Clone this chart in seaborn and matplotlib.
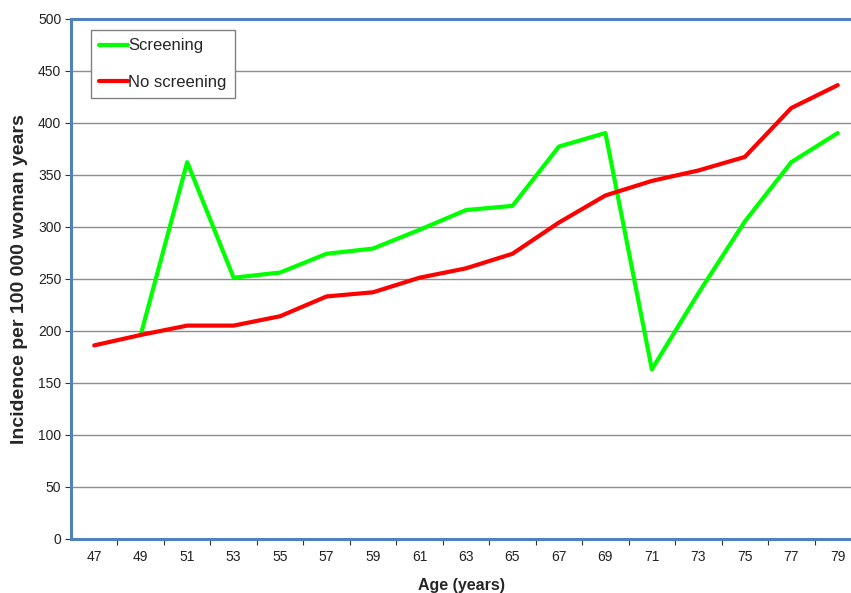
import matplotlib
matplotlib.use("Agg")
import matplotlib.pyplot as plt
import seaborn as sns
import pandas as pd
import numpy as np
from matplotlib.ticker import FixedLocator

ages = ["47", "49", "51", "53", "55", "57", "59", "61", "63", "65", "67", "69", "71", "73", "75", "77", "79"]
screening = [np.nan, 196, 362, 251, 256, 274, 279, 297, 316, 320, 377, 390, 163, 236, 305, 362, 390]
no_screening = [186, 196, 205, 205, 214, 233, 237, 251, 260, 274, 304, 330, 344, 354, 367, 414, 436]
series_names = ["Screening", "No screening"]
series_colors = ["#00FF00", "#FF0000"]
y_ticks = [0, 50, 100, 150, 200, 250, 300, 350, 400, 450, 500]

sns.set_theme(style="white")
plt.rcParams["font.family"] = ["Liberation Sans", "DejaVu Sans"]

df = pd.DataFrame({
    "pos": list(range(len(ages))) * 2,
    "value": screening + no_screening,
    "series": [series_names[0]] * len(ages) + [series_names[1]] * len(ages),
})

fig = plt.figure(figsize=(8.51, 5.93), dpi=100)
ax = fig.add_axes([71 / 851, 1 - 539 / 593, 1 - 71 / 851, (539 - 18.5) / 593])

sns.lineplot(data=df, x="pos", y="value", hue="series", hue_order=series_names,
             palette=series_colors, linewidth=3.0, ax=ax, legend=True)

ax.set_ylim(0, 500)
ax.set_xlim(-0.5, 16.5 - 10 / 46.5)
ax.set_yticks(y_ticks)
ax.set_yticklabels([str(t) for t in y_ticks], fontsize=10)
ax.set_xticks(range(len(ages)))
ax.set_xticklabels(ages, fontsize=10)
ax.xaxis.set_minor_locator(FixedLocator(np.arange(0.5, 16.5, 1.0)))
ax.tick_params(axis="x", which="major", length=0, pad=8, colors="#222222")
ax.tick_params(axis="x", which="minor", length=4, width=0.8, color="#333333", direction="out", bottom=True)
ax.tick_params(axis="y", which="major", length=4, width=0.8, color="#333333", direction="out", left=True, pad=3, colors="#222222")
ax.tick_params(axis="y", color="#333333")

ax.grid(axis="y", color="#8c8c8c", linewidth=1.0)
ax.set_axisbelow(True)

for side in ["left", "top", "bottom"]:
    ax.spines[side].set_visible(True)
    ax.spines[side].set_color("#4F81BD")
    ax.spines[side].set_linewidth(2.2)
ax.spines["right"].set_visible(False)

ax.set_xlabel("Age (years)", fontsize=11.5, fontweight="bold", labelpad=10)
ax.set_ylabel("Incidence per 100 000 woman years", fontsize=14, fontweight="bold", labelpad=7)

leg = ax.legend(loc="upper left", bbox_to_anchor=(20 / 780, 1 - 11.5 / 520), fontsize=12,
                frameon=True, fancybox=False, edgecolor="#808080", framealpha=1,
                handlelength=1.7, handletextpad=0.05, labelspacing=1.3, borderpad=0.5,
                borderaxespad=0)
leg.get_frame().set_linewidth(1.0)
for line in leg.get_lines():
    line.set_linewidth(3.0)

fig.savefig("out.png", dpi=100)
